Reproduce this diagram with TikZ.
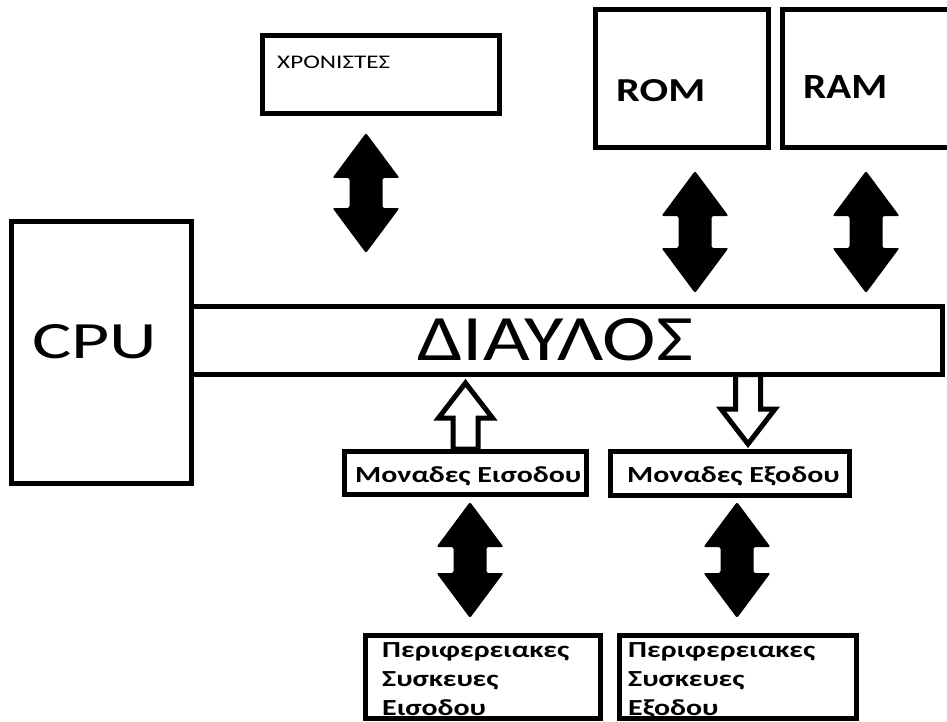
\documentclass[tikz,border=0pt]{standalone}
\usepackage{fontspec}
\setmainfont{Carlito}
\usepackage{graphicx}
\usetikzlibrary{calc}
\newcommand{\wtxt}[1]{\scalebox{1.3}[1]{#1}}
\begin{document}
\begin{tikzpicture}[x=1pt,y=-1pt,
  box/.style={draw,line width=5pt,rectangle,inner sep=0pt},
  lbl/.style={anchor=base west,inner sep=0pt},
  unit/.style={lbl,font=\fontsize{23}{23}\selectfont\bfseries}]
% block diagram, coordinates in pixels of the original drawing
\useasboundingbox (0,0) rectangle (947,722);
\clip (0,0) rectangle (947,722);
\def\dblarrow#1#2{\fill[rounded corners=2pt] let \p1=(#1), \p2=(#2) in
 (\x1,\y1) --(\x1+33.5pt,\y1-45pt) --(\x1+16.5pt,\y1-45pt)
 --(\x1+16.5pt,\y2+45pt) --(\x1+33.5pt,\y2+45pt) --(\x1,\y2)
 --(\x1-33.5pt,\y2+45pt) --(\x1-16.5pt,\y2+45pt)
 --(\x1-16.5pt,\y1-45pt) --(\x1-33.5pt,\y1-45pt) --cycle;}
\def\hollowarrow#1#2#3{\draw[line width=5pt,fill=white] let \p1=(#1), \p2=(#2) in
 (\x1-12.5pt,\y1) --(\x1-12.5pt,\y2#335pt) --(\x1-27pt,\y2#335pt)
 --(\x1,\y2) --(\x1+27pt,\y2#335pt) --(\x1+12.5pt,\y2#335pt)
 --(\x1+12.5pt,\y1) --cycle;}
% boxes
\node[box,minimum width=237pt,minimum height=78pt] (chron) at (381,74.5) {};
\node[box,minimum width=173pt,minimum height=138pt] (rom) at (682,78.5) {};
\node[box,minimum width=217pt,minimum height=138pt] (ram) at (891,78.5) {};
\node[box,minimum width=180pt,minimum height=262pt] (cpu) at (101.5,352.5) {};
\node[box,minimum width=751pt,minimum height=68pt] (bus) at (567,340.5) {};
\node[box,minimum width=242pt,minimum height=43pt] (inunit) at (465.5,473) {};
\node[box,minimum width=239pt,minimum height=44pt] (outunit) at (730,473.5) {};
\node[box,minimum width=235pt,minimum height=83pt] (indev) at (483,677) {};
\node[box,minimum width=237pt,minimum height=83pt] (outdev) at (738,677) {};
% labels
\node[lbl] (tchron) at (277,69) {\resizebox{113pt}{12.5pt}{ΧΡΟΝΙΣΤΕΣ}};
\node[lbl] (trom) at (616,102) {\resizebox{89pt}{22pt}{\bfseries ROM}};
\node[lbl] (tram) at (803,99) {\resizebox{84pt}{23pt}{\bfseries RAM}};
\node[lbl] (tcpu) at (32,358) {\resizebox{125pt}{34pt}{CPU}};
\node[lbl] (tbus) at (417,360) {\resizebox{276pt}{42pt}{ΔΙΑΥΛΟΣ}};
\node[unit] (tinunit) at (355,482) {\wtxt{Μοναδες Εισοδου}};
\node[unit] (toutunit) at (627,482) {\wtxt{Μοναδες Εξοδου}};
\node[unit] (tindevA) at (382,657) {\wtxt{Περιφερειακες}};
\node[unit] (tindevB) at (382,686) {\wtxt{Συσκευες}};
\node[unit] (tindevC) at (382,715) {\wtxt{Εισοδου}};
\node[unit] (toutdevA) at (628,657) {\wtxt{Περιφερειακες}};
\node[unit] (toutdevB) at (628,686) {\wtxt{Συσκευες}};
\node[unit] (toutdevC) at (628,715) {\wtxt{Εξοδου}};
% arrow ends
\coordinate (chronT) at (366,133);
\coordinate (chronB) at (366,253);
\coordinate (romT) at (695,171);
\coordinate (romB) at (695,293);
\coordinate (ramT) at (866,171);
\coordinate (ramB) at (866,293);
\coordinate (indevT) at (470,502);
\coordinate (indevB) at (470,618);
\coordinate (outdevT) at (737,502);
\coordinate (outdevB) at (737,618);
\coordinate (inTail) at (inunit.north);
\coordinate (inTip) at (465.5,383);
\coordinate (outTail) at (748,374.5);
\coordinate (outTip) at (748,444);
% arrows
\dblarrow{chronT}{chronB}
\dblarrow{romT}{romB}
\dblarrow{ramT}{ramB}
\dblarrow{indevT}{indevB}
\dblarrow{outdevT}{outdevB}
\hollowarrow{inTail}{inTip}{-}
\hollowarrow{outTail}{outTip}{+}
\end{tikzpicture}
\end{document}
